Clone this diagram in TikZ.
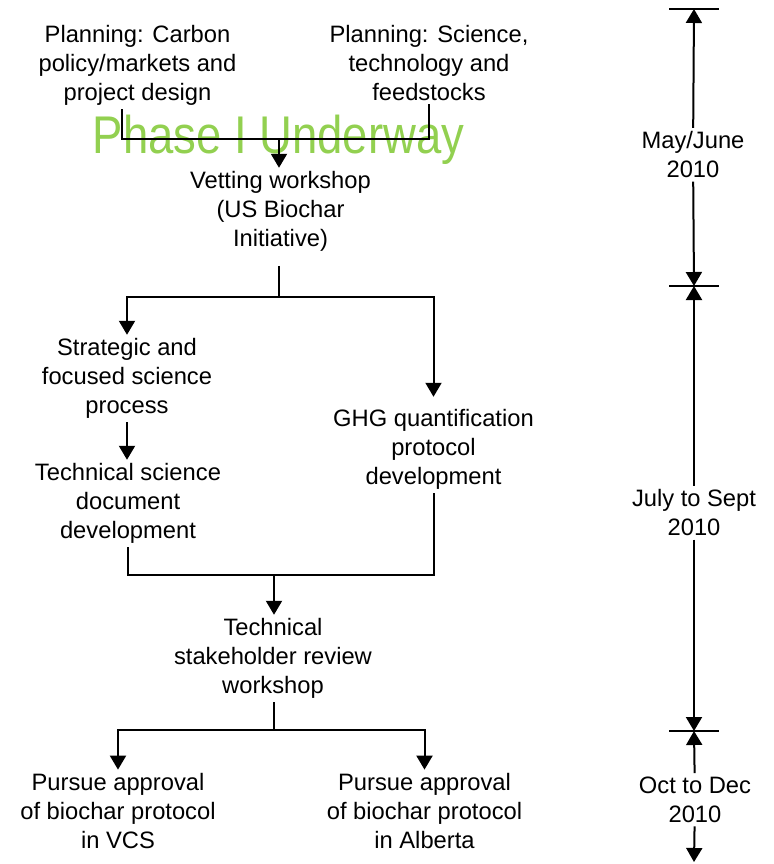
\documentclass[tikz,border=0pt]{standalone}
\usepackage{fontspec}
\usepackage{graphicx}
\setmainfont{Liberation Sans}
\usepackage{tikz}
\usetikzlibrary{arrows.meta,positioning}
\definecolor{phasegreen}{RGB}{146,208,80}
\tikzset{
	stage/.style={align=center,inner sep=2pt,yshift=-2.25pt,font=\fontsize{17.8}{21.75}\selectfont},
	phase/.style={text=phasegreen,inner sep=0pt,font=\fontsize{39.8}{40}\selectfont},
	flow/.style={-{Triangle[length=10.5pt,width=12pt]}},
	periodtick/.style={line width=1.5pt}
}
\begin{document}
\begin{tikzpicture}[x=0.75pt,y=-0.75pt,line width=1.5pt]
			\useasboundingbox (0,0) rectangle (774,864);
			\node[phase,anchor=base] (ph) at (278.5,153) {\scalebox{0.857}[1]{Phase I Underway}};
			\node[stage] (pcar) at (137.5,62.6) {Planning: Carbon\\policy/markets and\\project design};
			\node[stage] (psci) at (429,60) {Planning: Science,\\technology and\\feedstocks};
			\node[coordinate] (cvet) at (279,139) {};
			\node[stage] (vet) at (280.5,208.5) {Vetting workshop\\(US Biochar\\Initiative)};
			\node[coordinate] (csplit) at (279,297) {};
			\node[stage] (strat) at (127,375.5) {Strategic and\\focused science\\process};
			\node[stage] (tsd) at (128,500.5) {Technical science\\document\\development};
			\node[stage] (ghg) at (433.5,446.5) {GHG quantification\\protocol\\development};
			\node[coordinate] (cmerge) at (274,575) {};
			\node[stage] (rev) at (273,655.5) {Technical\\stakeholder review\\workshop};
			\node[coordinate] (crev) at (274,730) {};
			\node[stage] (vcs) at (118,808) {Pursue approval\\of biochar protocol\\in VCS};
			\node[stage] (alb) at (424.5,808) {Pursue approval\\of biochar protocol\\in Alberta};
			\draw ([xshift=-11.6pt]pcar.south) |- (cvet) -| (psci.south);
			\draw[flow] (cvet) -- (cvet |- vet.north);
			\draw[shorten <=8pt] (csplit |- vet.south) -- (csplit);
			\draw[flow] (csplit) -| (strat.north);
			\draw[flow] (csplit) -| ([yshift=6.75pt]ghg.north);
			\draw[flow] (strat.south) -- (strat.south |- tsd.north);
			\draw (tsd.south) |- (cmerge) -| (ghg.south);
			\draw[flow] (cmerge) -- (cmerge |- rev.north);
			\draw (rev.south -| crev) -- (crev);
			\draw[flow] (crev) -| (vcs.north);
			\draw[flow] (crev) -| (alb.north);
			% time line
			\node[stage] (may) at (693,151.7) {May/June\\2010};
			\node[stage] (jul) at (694,509.7) {July to Sept\\2010};
			\node[stage] (oct) at (695,796.7) {Oct to Dec\\2010};
			\node[coordinate] (t0) at (694,9) {};
			\node[coordinate] (t1) at (694,286) {};
			\node[coordinate] (t2) at (694,731) {};
			\node[coordinate] (t3) at (694,862) {};
			\foreach \t in {t0,t1,t2}
				\draw[periodtick] ([xshift=-18.75pt]\t) -- ([xshift=18.75pt]\t);
			\draw[flow] (may) -- (t0);
			\draw[flow] (may) -- (t1);
			\draw[flow] (jul) -- (t1);
			\draw[flow] (jul) -- (t2);
			\draw[flow] (oct) -- (t2);
			\draw[flow] (oct) -- (t3);
		\end{tikzpicture}
\end{document}
